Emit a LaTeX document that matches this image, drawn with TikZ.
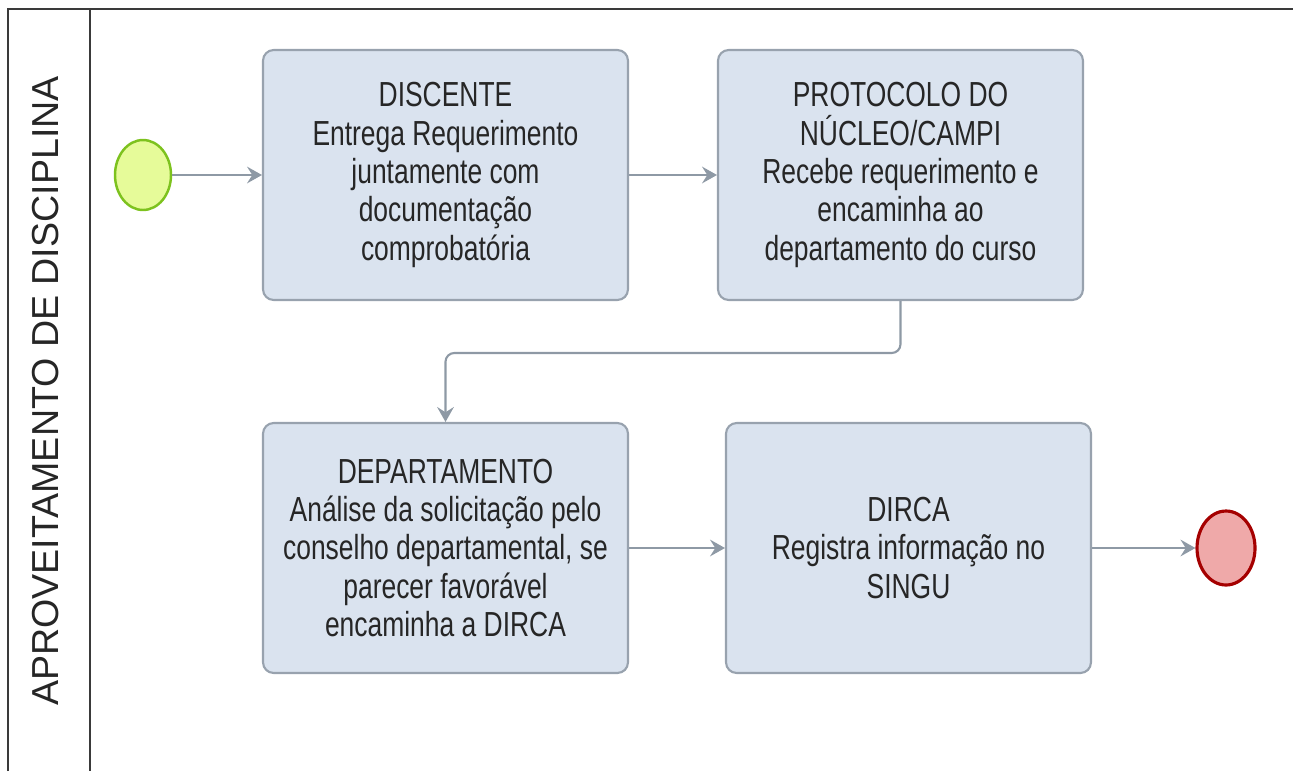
\documentclass[tikz,border=0pt]{standalone}
\usepackage{fontspec}
\setmainfont{Liberation Sans}
\newfontfamily\boxfont{Liberation Sans}[FakeStretch=0.76]
\usepackage{tikz}
\usetikzlibrary{shapes.geometric}
\usetikzlibrary{arrows.meta}

\definecolor{fondtache}{HTML}{DAE3EF}
\definecolor{bordtache}{HTML}{98A2AE}
\definecolor{fleche}{HTML}{8E99A5}
\definecolor{fonddebut}{HTML}{E6FB99}
\definecolor{borddebut}{HTML}{7DC21E}
\definecolor{fondfin}{HTML}{EFA9A9}
\definecolor{bordfin}{HTML}{A50000}
\definecolor{cadre}{HTML}{3A3A3A}

\begin{document}
\begin{tikzpicture}[x=0.02cm, y=-0.02cm]
% style des noeuds
\tikzstyle{tache} = [rectangle, draw=bordtache, fill=fondtache, line width=1.2pt, rounded corners=6pt,
  minimum width=7.3cm, minimum height=5cm, align=center, text=black!85,
  font=\boxfont\fontsize{19.8}{21.8}\selectfont]
\tikzstyle{debut} = [ellipse, draw=borddebut, fill=fonddebut, line width=1.4pt, minimum width=1.12cm, minimum height=1.4cm]
\tikzstyle{fin} = [ellipse, draw=bordfin, fill=fondfin, line width=1.8pt, minimum width=1.16cm, minimum height=1.48cm]
% style des flèches
\tikzstyle{suite} = [-{Stealth[length=8.5pt, width=9.5pt, inset=3pt]}, draw=fleche, line width=1.2pt, rounded corners=5pt]

\useasboundingbox (0,0) rectangle (1293,771);

%% cadre du couloir
\draw[cadre, line width=1.1pt] (8,771) -- (8,9) -- (1293,9);
\draw[cadre, line width=1.1pt] (90,9) -- (90,771);
\node[rotate=90, font=\fontsize{21.4}{24}\selectfont, text=black!85] (couloir) at (46,391) {APROVEITAMENTO DE DISCIPLINA};

%% placement des noeuds
\node[debut] (depart) at (143,175) {};
\node[tache] (discente) at (445.5,175) {DISCENTE\\Entrega Requerimento\\juntamente com\\documentação\\comprobatória};
\node[tache] (protocolo) at (900.5,175) {PROTOCOLO DO\\NÚCLEO/CAMPI\\Recebe requerimento e\\encaminha ao\\departamento do curso};
\node[tache] (departamento) at (445.5,548) {DEPARTAMENTO\\Análise da solicitação pelo\\conselho departamental, se\\parecer favorável\\encaminha a DIRCA};
\node[tache] (dirca) at (908.5,548) {DIRCA\\Registra informação no\\SINGU};
\node[fin] (arrivee) at (1226,548) {};
\coordinate (coude) at (0,353);
%
%% placement des flèches
\draw[suite] (depart) -- (discente);
\draw[suite] (discente) -- (protocolo);
\draw[suite] (protocolo.south) |- (coude -| departamento.north) -- (departamento.north);
\draw[suite] (departamento) -- (dirca);
\draw[suite] (dirca) -- (arrivee);
\end{tikzpicture}
\end{document}
